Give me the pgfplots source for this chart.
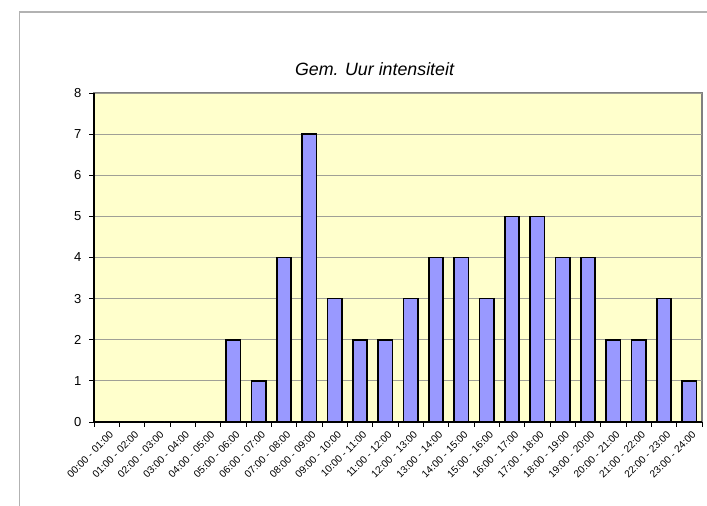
\documentclass[border=0pt]{standalone}
\usepackage{pgfplots}
\pgfplotsset{compat=1.18}
\usepackage{fontspec}
\setmainfont{Liberation Sans}
\definecolor{plotbg}{RGB}{255,255,204}
\definecolor{barfill}{RGB}{153,153,255}
\definecolor{gridc}{RGB}{160,160,150}
\definecolor{framec}{RGB}{128,128,128}
\begin{document}
\begin{tikzpicture}
  \useasboundingbox (0pt,0pt) rectangle (707pt,506pt);
  \fill[white] (0pt,0pt) rectangle (707pt,506pt);
  % chart area frame
  \draw[line width=1.2pt, black!30] (19.5pt,0pt) -- (19.5pt,494pt) -- (707pt,494pt);
  \node[font=\fontsize{17.8}{20}\selectfont\itshape] at (374.5pt,437pt) {Gem. Uur intensiteit};
  \begin{axis}[
    at={(94pt,84pt)}, anchor=south west,
    scale only axis, width=608pt, height=329pt,
    ybar, bar width=14.5pt,
    xmin=-0.5, xmax=23.5, ymin=0, ymax=8,
    axis x line=bottom, axis y line=left,
    axis line style={black, line width=1.3pt, -},
    axis background/.style={fill=plotbg, draw=framec, line width=2.2pt},
    ytick={0,...,8}, ymajorgrids,
    grid style={gridc, line width=0.8pt},
    xtick={0,...,23},
    xticklabels={00:00 - 01:00, 01:00 - 02:00, 02:00 - 03:00, 03:00 - 04:00,
      04:00 - 05:00, 05:00 - 06:00, 06:00 - 07:00, 07:00 - 08:00,
      08:00 - 09:00, 09:00 - 10:00, 10:00 - 11:00, 11:00 - 12:00,
      12:00 - 13:00, 13:00 - 14:00, 14:00 - 15:00, 15:00 - 16:00,
      16:00 - 17:00, 17:00 - 18:00, 18:00 - 19:00, 19:00 - 20:00,
      20:00 - 21:00, 21:00 - 22:00, 22:00 - 23:00, 23:00 - 24:00},
    minor xtick={-0.5,0.5,...,23.5},
    major x tick style={draw=none},
    tick align=outside,
    major tick length=5pt, minor tick length=5pt,
    tick style={black, line width=0.9pt},
    x tick label style={rotate=45, anchor=north east,
      font=\fontsize{10.2}{12}\selectfont, inner sep=1pt, yshift=-3pt},
    y tick label style={font=\fontsize{13}{15}\selectfont, xshift=-4pt},
    /pgf/number format/assume math mode=true,
  ]
    \addplot[fill=barfill, draw=black, line width=1.6pt] coordinates {
      (0,0) (1,0) (2,0) (3,0) (4,0) (5,2) (6,1) (7,4) (8,7) (9,3) (10,2) (11,2)
      (12,3) (13,4) (14,4) (15,3) (16,5) (17,5) (18,4) (19,4) (20,2) (21,2) (22,3) (23,1)
    };
  \end{axis}
\end{tikzpicture}
\end{document}
